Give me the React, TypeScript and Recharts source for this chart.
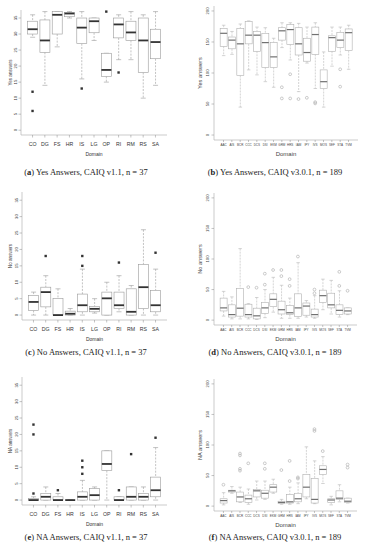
import React from "react";
import { ComposedChart, Bar, Scatter, XAxis, YAxis } from "recharts";

const domainsV11 = ["CO", "DG", "FS", "HR", "IS", "LG", "OP", "RI", "RM", "RS", "SA"];
const domainsV301 = [
  "AAC", "AIS", "BCR", "CCC", "DCS", "DSI", "EKM", "GRM",
  "HRS", "IAM", "IPY", "IVS", "MOS", "SEF", "STA", "TVM",
];

const ticksV11 = [0, 5, 10, 15, 20, 25, 30, 35];
const ticksV301 = [0, 50, 100, 150, 200];

// [min, q1, median, q3, max] per domain
const yesV11 = [
  [29, 30, 31.5, 34, 36], [14, 24.3, 28, 34.4, 37], [26, 30, 36, 37, 37],
  [35, 35.4, 36.4, 36.7, 37], [16, 27, 32, 35, 37], [28, 30.4, 34, 35, 35],
  [15, 16.8, 18.8, 24, 24], [22, 28.8, 33, 35, 36], [22, 28, 30.5, 34, 37],
  [10, 18, 28, 35, 36], [14, 22.3, 27.5, 31.5, 37],
];
const yesV11Out = [[12, 6], [], [], [], [13], [], [37], [18], [], [], []];

const yesV301 = [
  [128, 143, 164, 172, 177], [130, 139, 153, 158, 167], [45, 96, 147, 172, 179],
  [105, 147, 161, 183, 184], [97, 135, 161, 167, 174], [86, 109, 149, 164, 173],
  [77, 109, 126, 149, 156], [141, 153, 168, 173, 181], [121, 146, 170, 178, 181],
  [70, 129, 147, 173, 180], [116, 119, 133, 156, 174], [75, 130, 162, 174, 181],
  [45, 75, 86, 105, 134], [111, 135, 157, 160, 174], [129, 141, 153, 165, 174],
  [106, 136, 165, 171, 177],
];
const yesV301Out = [[], [], [], [], [], [], [], [77, 59], [98, 59], [58], [60], [53, 51], [], [], [106, 78], []];

const noV11 = [
  [0, 1.4, 4, 6, 7], [0, 2.5, 7, 8.5, 12], [0, 0, 0, 5.1, 8], [0, 0, 0.4, 1.2, 2],
  [0, 1, 3, 6.4, 14], [0.6, 1, 1.9, 2.6, 5], [0, 0, 5.1, 7, 10], [1, 2, 3, 7, 12],
  [0, 0, 1, 8, 9], [0, 2, 8.5, 15.4, 26], [0, 1, 3, 7.5, 14],
];
const noV11Out = [[], [18], [], [], [18, 15], [], [], [16], [], [], [19]];

const noV301 = [
  [6.5, 15, 20, 36, 47], [2, 5, 9, 25, 38], [2, 6.5, 19.5, 52, 117], [2, 5, 9, 26, 27],
  [1, 2, 7, 19.5, 37], [4, 11, 20, 29, 50], [13, 22, 34, 43, 70], [3, 10, 17, 31, 57],
  [3, 9, 12, 24, 36], [3, 6, 20, 43, 94], [5, 8, 23, 28, 32], [3, 5, 9, 18, 40],
  [17, 29, 40, 49, 67], [10, 20, 25, 44, 65], [5, 9, 16, 25, 48], [9, 10, 15, 20, 20],
];
const noV301Out = [[], [], [], [54], [53], [76, 58], [82], [82, 72], [67, 56], [104], [], [50, 44], [], [], [79, 56], [48]];

const naV11 = [
  [0, 0, 0, 0.5, 1], [0, 0, 1, 2, 4], [0, 0, 0, 1, 2], [0, 0, 0, 0, 0],
  [0, 0, 1, 2.5, 6], [0, 0, 1.5, 3.5, 4], [0, 9, 11, 15, 15], [0, 0, 0, 1, 1],
  [0, 0, 1, 4, 4], [0, 0, 1, 2, 4], [0, 1, 3, 7, 16],
];
const naV11Out = [[2, 20, 23], [], [3], [], [8, 10, 12], [], [], [3], [14], [], [19]];

const naV301 = [
  [2, 5, 9, 12, 22], [21, 23, 25, 26, 32], [6, 7, 15, 23, 31], [3, 6, 12, 18, 28],
  [10, 15, 25, 27, 41], [11, 13, 21, 26, 41], [21, 23, 31, 35, 44], [3, 4, 6, 8, 11],
  [3, 5, 7, 19, 31], [4, 7, 12, 21, 38], [12, 15, 31, 52, 97], [4, 5, 11, 45, 74],
  [37, 52, 60, 66, 81], [2, 6, 10, 12, 16], [7, 11, 13, 25, 35], [5, 6, 8, 13, 13],
];
const naV301Out = [[35], [], [86, 83, 61, 58], [70], [], [70, 61], [], [59], [74, 41], [47, 45], [], [126, 123], [90], [], [], [68, 63]];

const outKeys = ["o1", "o2", "o3", "o4"];

const buildRows = (domains: string[], stats: number[][], outliers: number[][]) =>
  domains.map((d, i) => {
    const [min, q1, med, q3, max] = stats[i];
    const row: any = { d, range: [min, max], min, q1, med, q3, max };
    outliers[i].forEach((v, j) => {
      row[outKeys[j]] = v;
    });
    return row;
  });

const looks = {
  v11: { box: "#9a9a9a", med: "#333", medW: 1.8, whisk: "#9a9a9a", dash: "2 1.3", text: "#333" },
  v301: { box: "#b0b0b0", med: "#707070", medW: 1.2, whisk: "#b8b8b8", dash: "2 1", text: "#444" },
};

const SANS = "Liberation Sans, Arial, sans-serif";

// tiny text: drawn at 10px and scaled down, so the browser's minimum font size does not kick in
const SmallText = ({ x, y, size, angle = 0, fill, children }: any) => (
  <text
    transform={`translate(${x} ${y}) rotate(${angle}) scale(${size / 10})`}
    x={0}
    y={0}
    dy="0.36em"
    textAnchor="middle"
    fontSize={10}
    fill={fill}
    fontFamily={SANS}
  >
    {children}
  </text>
);

const BoxShape = (props: any, look: any) => {
  const { x, y, width, height, payload } = props;
  const top = Math.min(y, y + height);
  const h = Math.abs(height);
  const { min, q1, med, q3, max } = payload;
  const k = max > min ? h / (max - min) : 0;
  const py = (v: number) => top + (max - v) * k;
  const cx = x + width / 2;
  const cap = width / 4;
  return (
    <g>
      <line x1={cx} x2={cx} y1={py(max)} y2={py(q3)} stroke={look.whisk} strokeWidth={0.6} strokeDasharray={look.dash} />
      <line x1={cx} x2={cx} y1={py(q1)} y2={py(min)} stroke={look.whisk} strokeWidth={0.6} strokeDasharray={look.dash} />
      <line x1={cx - cap} x2={cx + cap} y1={py(max)} y2={py(max)} stroke={look.whisk} strokeWidth={0.6} />
      <line x1={cx - cap} x2={cx + cap} y1={py(min)} y2={py(min)} stroke={look.whisk} strokeWidth={0.6} />
      <rect x={x} y={py(q3)} width={width} height={Math.max(py(q1) - py(q3), 0)} fill="#fff" stroke={look.box} strokeWidth={0.6} />
      <line x1={x} x2={x + width} y1={py(med)} y2={py(med)} stroke={look.med} strokeWidth={look.medW} />
    </g>
  );
};

const OutlierShape = (props: any, key: string, variant: string) => {
  if (props.payload == null || props.payload[key] == null || !isFinite(props.cy)) return <g />;
  if (variant === "v11") {
    return <rect x={props.cx - 1.2} y={props.cy - 1.2} width={2.4} height={2.4} fill="#333" />;
  }
  return <circle cx={props.cx} cy={props.cy} r={1.4} fill="none" stroke="#aaa" strokeWidth={0.6} />;
};

interface PanelProps {
  rows: any[];
  ticks: number[];
  domain: number[];
  variant: "v11" | "v301";
  yLabel: string;
  letter: string;
  caption: string;
  x0: number;
  rowTop: number;
  plotLeft: number;
  plotRight: number;
  plotTop: number;
  plotBottom: number;
  captionY: number;
}

const Panel = (p: PanelProps) => {
  const look = looks[p.variant];
  const left = p.variant === "v11";
  const axisH = 24;
  const plotW = p.plotRight - p.plotLeft;
  const pad = plotW * 0.037;
  const xFont = left ? 5.2 : 3.0;
  const xGap = left ? 9 : 4.5;
  const labelFont = left ? 5 : 6;
  const labelGap = left ? 18.7 : 14;
  const yLabFont = left ? 4.6 : 5.6;
  const yLabX = left ? 10 : 16.5;
  const yTickFont = 4.2;
  const yTickGap = left ? 6 : 7;
  const frame = { stroke: "#b5b5b5", strokeWidth: 0.7 };
  const captionCenter = left ? 86 : 275;

  // tick props: x/y is the axis position of the tick
  const XTick = (t: any) => (
    <SmallText x={t.x} y={p.plotBottom - p.rowTop + xGap} size={xFont} fill={look.text}>
      {t.payload.value}
    </SmallText>
  );
  const YTick = (t: any) => (
    <SmallText x={p.plotLeft - p.x0 - yTickGap} y={t.y} size={yTickFont} angle={-90} fill={look.text}>
      {t.payload.value}
    </SmallText>
  );
  const XLabel = (l: any) => (
    <SmallText x={l.viewBox.x + l.viewBox.width / 2} y={l.viewBox.y + labelGap} size={labelFont} fill={look.text}>
      Domain
    </SmallText>
  );
  const YLabel = (l: any) => (
    <SmallText x={yLabX} y={l.viewBox.y + l.viewBox.height / 2} size={yLabFont} angle={-90} fill={look.text}>
      {p.yLabel}
    </SmallText>
  );

  return (
    <>
      <div style={{ position: "absolute", left: p.x0, top: p.rowTop }}>
        <ComposedChart
          width={183}
          height={p.plotBottom - p.rowTop + axisH}
          data={p.rows}
          barCategoryGap="10%"
          margin={{ top: p.plotTop - p.rowTop, right: p.x0 + 183 - p.plotRight, bottom: 0, left: 0 }}
        >
          <XAxis
            dataKey="d"
            type="category"
            interval={0}
            height={axisH}
            padding={{ left: pad, right: pad }}
            axisLine={frame}
            tickLine={{ stroke: "#888", strokeWidth: 0.5 }}
            tickSize={left ? 2.5 : 2}
            tick={XTick}
            label={{ content: XLabel }}
          />
          <XAxis xAxisId="top" orientation="top" dataKey="d" height={0} tick={false} tickLine={false} axisLine={frame} />
          <YAxis
            width={p.plotLeft - p.x0}
            domain={p.domain}
            allowDataOverflow
            ticks={p.ticks}
            interval={0}
            axisLine={frame}
            tickLine={{ stroke: "#888", strokeWidth: 0.5 }}
            tickSize={2.5}
            tick={YTick}
            label={{ content: YLabel }}
          />
          <YAxis yAxisId="r" orientation="right" width={0} tick={false} tickLine={false} axisLine={frame} />
          <Bar dataKey="range" isAnimationActive={false} shape={(s: any) => BoxShape(s, look)} />
          {outKeys.map((k) => (
            <Scatter
              key={k}
              dataKey={k}
              isAnimationActive={false}
              shape={(s: any) => OutlierShape(s, k, p.variant)}
            />
          ))}
        </ComposedChart>
      </div>
      <div
        style={{
          position: "absolute",
          left: captionCenter - 100,
          width: 200,
          top: p.captionY - 5,
          height: 10,
          lineHeight: "10px",
          textAlign: "center",
          fontFamily: "Liberation Serif, Times New Roman, serif",
          fontSize: 8.5,
          color: "#222",
          whiteSpace: "nowrap",
        }}
      >
        (<b>{p.letter}</b>) {p.caption}
      </div>
    </>
  );
};

const domV11 = [-1.5, 37.5];
const domV301 = [-8, 208];

export default function App() {
  return (
    <div style={{ position: "absolute", left: 0, top: 0, width: 366, height: 550, background: "#fff" }}>
      <Panel
        rows={buildRows(domainsV11, yesV11, yesV11Out)} ticks={ticksV11} domain={domV11} variant="v11"
        yLabel="Yes answers" letter="a" caption="Yes Answers, CAIQ v1.1, n = 37"
        x0={0} rowTop={0} plotLeft={21} plotRight={167} plotTop={10} plotBottom={135} captionY={172}
      />
      <Panel
        rows={buildRows(domainsV301, yesV301, yesV301Out)} ticks={ticksV301} domain={domV301} variant="v301"
        yLabel="Yes answers" letter="b" caption="Yes Answers, CAIQ v3.0.1, n = 189"
        x0={183} rowTop={0} plotLeft={214} plotRight={358} plotTop={6} plotBottom={140} captionY={172}
      />
      <Panel
        rows={buildRows(domainsV11, noV11, noV11Out)} ticks={ticksV11} domain={domV11} variant="v11"
        yLabel="No answers" letter="c" caption="No Answers, CAIQ v1.1, n = 37"
        x0={0} rowTop={180} plotLeft={22} plotRight={167} plotTop={192} plotBottom={320} captionY={352}
      />
      <Panel
        rows={buildRows(domainsV301, noV301, noV301Out)} ticks={ticksV301} domain={domV301} variant="v301"
        yLabel="No answers" letter="d" caption="No Answers, CAIQ v3.0.1, n = 189"
        x0={183} rowTop={180} plotLeft={214} plotRight={357} plotTop={193} plotBottom={325} captionY={352}
      />
      <Panel
        rows={buildRows(domainsV11, naV11, naV11Out)} ticks={ticksV11} domain={domV11} variant="v11"
        yLabel="NA answers" letter="e" caption="NA Answers, CAIQ v1.1, n = 37"
        x0={0} rowTop={365} plotLeft={22} plotRight={167} plotTop={377} plotBottom={505} captionY={537}
      />
      <Panel
        rows={buildRows(domainsV301, naV301, naV301Out)} ticks={ticksV301} domain={domV301} variant="v301"
        yLabel="NA answers" letter="f" caption="NA Answers, CAIQ v3.0.1, n = 189"
        x0={183} rowTop={365} plotLeft={214} plotRight={357} plotTop={379} plotBottom={511} captionY={537}
      />
    </div>
  );
}
